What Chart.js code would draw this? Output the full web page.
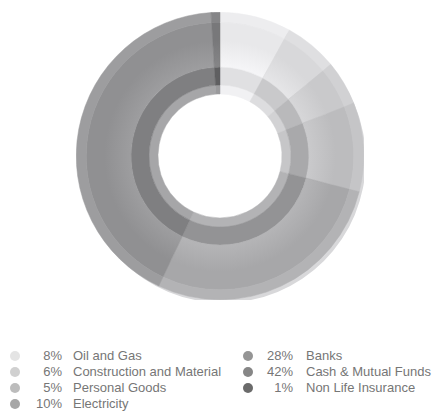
<!DOCTYPE html>
<html>
<head>
<meta charset="utf-8">
<script src="https://cdn.jsdelivr.net/npm/chart.js@4/dist/chart.umd.min.js"></script>
<style>
  body { margin: 0; background: #fff; width: 435px; height: 411px; overflow: hidden; position: relative; font-family: "Liberation Sans", Arial, sans-serif; }
  #wrap { position: absolute; left: 76px; top: 12px; width: 288px; height: 288px; }
  .legend { position: absolute; font-size: 13px; color: #767676; }
  .row { position: absolute; height: 16px; line-height: 16px; white-space: nowrap; }
  .dot { position: absolute; top: 3px; width: 10px; height: 10px; border-radius: 50%; }
  .pct { position: absolute; text-align: right; }
  .lbl { position: absolute; }
</style>
</head>
<body>
<div id="wrap"><canvas id="grafico"></canvas></div>
<div id="legenda"></div>
<script>
// dados do gráfico
const categorias = ['Oil and Gas', 'Construction and Material', 'Personal Goods', 'Electricity', 'Banks', 'Cash & Mutual Funds', 'Non Life Insurance'];
const valores = [8, 6, 5, 10, 28, 42, 1];

// cores de cada anel (de fora para dentro) e da legenda
const corBorda   = ['#ededef', '#dfdfe1', '#d1d1d3', '#c5c5c7', '#b3b3b5', '#9d9d9f', '#858587'];
const corExterna = ['#e8e8ea', '#d8d8da', '#c9c9cb', '#bcbcbe', '#a7a7a9', '#909092', '#78787a'];
const corMeio    = ['#e0e0e2', '#c9c9cb', '#b9b9bb', '#a9a9ab', '#939395', '#7f7f81', '#5f5f61'];
const corInterna = ['#f1f1f3', '#dddddf', '#d2d2d4', '#c6c6c8', '#b3b3b5', '#a6a6a8', '#9a9a9c'];
const corLegenda = ['#e4e4e4', '#d0d0d0', '#bcbcbc', '#a6a6a6', '#959595', '#868686', '#6b6b6b'];

function clarear(hex, q) {
  const n = parseInt(hex.slice(1), 16);
  const f = v => Math.min(255, v + q);
  return `rgb(${f(n >> 16)},${f((n >> 8) & 255)},${f(n & 255)})`;
}

// sombra atrás do anel (só a borda)
const sombra = {
  id: 'sombra',
  beforeDatasetsDraw(chart) {
    const arc = chart.getDatasetMeta(0).data[0];
    if (!arc) return;
    const ctx = chart.ctx;
    ctx.save();
    ctx.fillStyle = '#d8d8da';
    ctx.beginPath();
    ctx.arc(arc.x + 3, arc.y + 4, arc.outerRadius - 1, 0, Math.PI * 2);
    ctx.arc(arc.x + 3, arc.y + 4, arc.outerRadius - 30, 0, Math.PI * 2, true);
    ctx.fill();
    ctx.restore();
  }
};

function anel(cores, peso, brilho) {
  return {
    data: valores,
    backgroundColor: (c) => {
      const base = cores[c.dataIndex];
      const a = c.chart.chartArea;
      if (!brilho || !a) return base;
      const cx = (a.left + a.right) / 2, cy = (a.top + a.bottom) / 2;
      const g = c.chart.ctx.createRadialGradient(cx, cy, 88, cx, cy, 134);
      g.addColorStop(0, clarear(base, brilho));
      g.addColorStop(0.6, base);
      g.addColorStop(1, base);
      return g;
    },
    borderColor: cores,
    borderWidth: 0.5,
    weight: peso
  };
}

new Chart(document.getElementById('grafico'), {
  type: 'doughnut',
  data: {
    labels: categorias,
    datasets: [anel(corBorda, 10, 0), anel(corExterna, 45, 14), anel(corMeio, 18, 0), anel(corInterna, 9, 0)]
  },
  options: {
    responsive: true,
    maintainAspectRatio: false,
    animation: false,
    cutout: 62,
    layout: { padding: 0 },
    plugins: { legend: { display: false }, tooltip: { enabled: false } }
  },
  plugins: [sombra]
});

// legenda em duas colunas
const legenda = document.getElementById('legenda');
const colunas = [{ dot: 10, pct: 62, lbl: 73 }, { dot: 243, pct: 293, lbl: 306 }];
categorias.forEach((nome, i) => {
  const c = i < 4 ? colunas[0] : colunas[1];
  const linha = i < 4 ? i : i - 4;
  const el = document.createElement('div');
  el.className = 'legend row';
  el.style.top = (348 + linha * 16) + 'px';
  el.style.left = '0px';
  el.style.width = '435px';
  el.innerHTML =
    `<span class="dot" style="left:${c.dot}px;background:${corLegenda[i]}"></span>` +
    `<span class="pct" style="right:${435 - c.pct}px">${valores[i]}%</span>` +
    `<span class="lbl" style="left:${c.lbl}px">${nome}</span>`;
  legenda.appendChild(el);
});
</script>
</body>
</html>
